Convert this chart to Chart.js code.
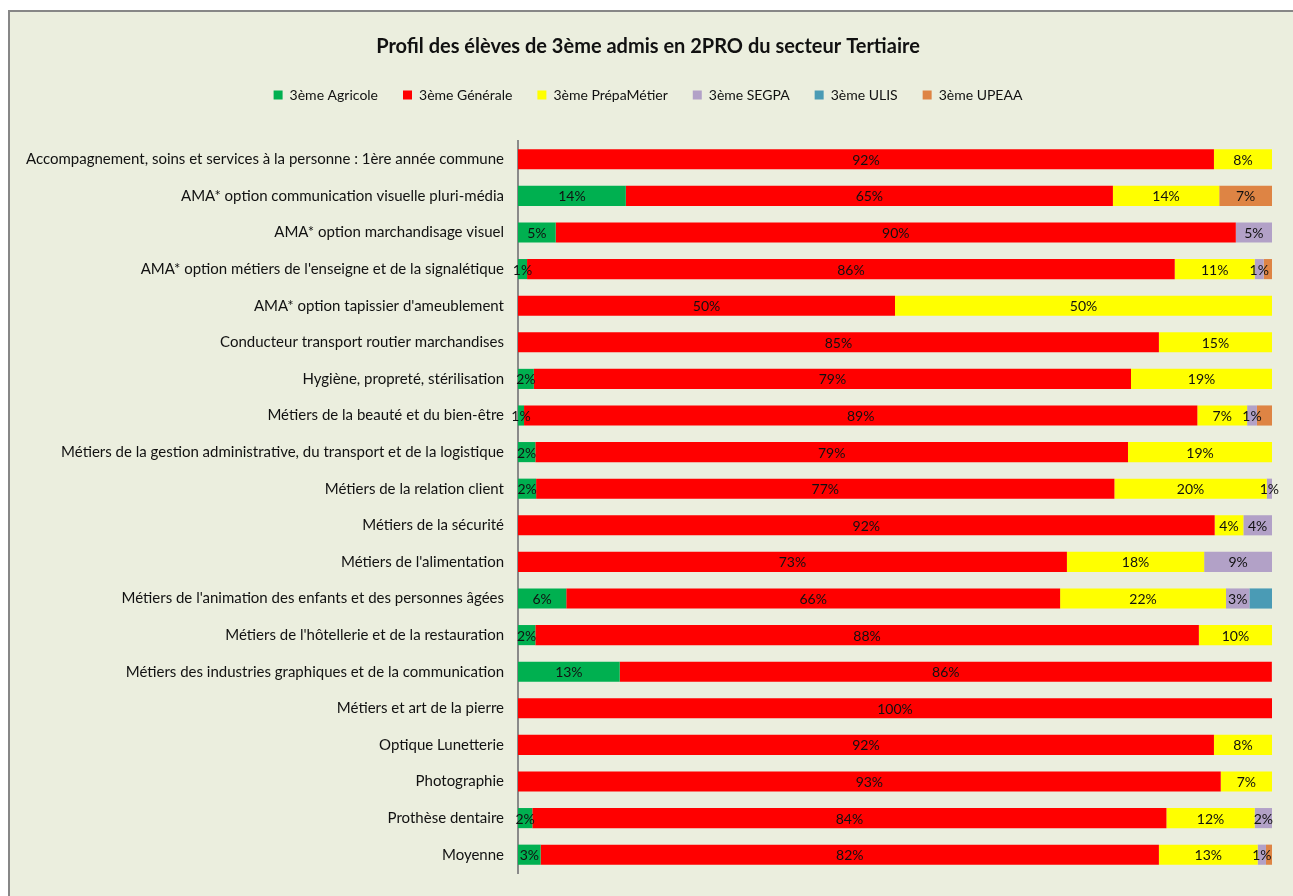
<!DOCTYPE html>
<html>
<head>
<meta charset="utf-8">
<script src="https://cdn.jsdelivr.net/npm/chart.js@4/dist/chart.umd.min.js"></script>
<style>
  html, body { margin: 0; padding: 0; background: #ffffff; }
  #frame {
    position: absolute; left: 8px; top: 10px; width: 1285px; height: 886px;
    border-top: 2px solid #878787; border-left: 2px solid #878787;
    background: #EBEEDE;
  }
  #box { position: absolute; left: 0; top: 0; width: 1283px; height: 884px; }
</style>
</head>
<body>
<div id="frame"><div id="box"><canvas id="profilChart"></canvas></div></div>
<script>
const categories = [
  "Accompagnement, soins et services à la personne : 1ère année commune",
  "AMA* option communication visuelle pluri-média",
  "AMA* option marchandisage visuel",
  "AMA* option métiers de l'enseigne et de la signalétique",
  "AMA* option tapissier d'ameublement",
  "Conducteur transport routier marchandises",
  "Hygiène, propreté, stérilisation",
  "Métiers de la beauté et du bien-être",
  "Métiers de la gestion administrative, du transport et de la logistique",
  "Métiers de la relation client",
  "Métiers de la sécurité",
  "Métiers de l'alimentation",
  "Métiers de l'animation des enfants et des personnes âgées",
  "Métiers de l'hôtellerie et de la restauration",
  "Métiers des industries graphiques et de la communication",
  "Métiers et art de la pierre",
  "Optique Lunetterie",
  "Photographie",
  "Prothèse dentaire",
  "Moyenne"
];

const agricole = [0, 14.3, 5.0, 1.2, 0, 0, 2.1, 0.8, 2.3, 2.4, 0, 0, 6.4, 2.3, 13.49, 0, 0, 0, 1.9, 3.0];
const generale = [92.3, 64.6, 90.2, 85.9, 50, 85, 79.2, 89.3, 78.6, 76.7, 92.4, 72.8, 65.5, 88.0, 86.49, 100, 92.3, 93.2, 84.1, 82.0];
const prepaMetier = [7.7, 14.1, 0, 10.6, 50, 15, 18.7, 6.6, 19.1, 20.2, 3.8, 18.2, 22.0, 9.7, 0, 0, 7.7, 6.8, 11.7, 13.1];
const segpa = [0, 0, 4.8, 1.2, 0, 0, 0, 1.3, 0, 0.7, 3.8, 9.0, 3.1, 0, 0, 0, 0, 0, 2.3, 1.1];
const ulis = [0, 0, 0, 0, 0, 0, 0, 0, 0, 0, 0, 0, 3.0, 0, 0, 0, 0, 0, 0, 0];
const upeaa = [0, 7.0, 0, 1.1, 0, 0, 0, 2.0, 0, 0, 0, 0, 0, 0, 0, 0, 0, 0, 0, 0.8];

const FONT = "Lato, 'Noto Sans', sans-serif";

// percentage labels centred in each segment, skipped when they would collide
const segmentLabels = {
  id: 'segmentLabels',
  afterDatasetsDraw(chart) {
    const ctx = chart.ctx;
    ctx.save();
    ctx.font = "14px " + FONT;
    ctx.fillStyle = '#111111';
    ctx.textAlign = 'center';
    ctx.textBaseline = 'middle';
    const lastRight = {};
    chart.data.datasets.forEach((ds, di) => {
      const meta = chart.getDatasetMeta(di);
      meta.data.forEach((bar, i) => {
        const v = Math.round(ds.data[i]);
        if (!v) return;
        const txt = v + '%';
        const w = ctx.measureText(txt).width;
        const cx = (bar.x + bar.base) / 2;
        if (lastRight[i] !== undefined && cx - w / 2 < lastRight[i] + 6) return;
        ctx.fillText(txt, cx, bar.y + 1);
        lastRight[i] = cx + w / 2;
      });
    });
    ctx.restore();
  }
};

function serie(label, data, color) {
  return { label: label, data: data, backgroundColor: color, borderWidth: 0,
           barPercentage: 0.55, categoryPercentage: 1 };
}

new Chart(document.getElementById('profilChart'), {
  type: 'bar',
  data: {
    labels: categories,
    datasets: [
      serie('3ème Agricole', agricole, '#00B050'),
      serie('3ème Générale', generale, '#FF0000'),
      serie('3ème PrépaMétier', prepaMetier, '#FFFF00'),
      serie('3ème SEGPA', segpa, '#B2A1C7'),
      serie('3ème ULIS', ulis, '#4A9BB5'),
      serie('3ème UPEAA', upeaa, '#DE8444')
    ]
  },
  options: {
    indexAxis: 'y',
    responsive: true,
    maintainAspectRatio: false,
    animation: false,
    layout: { padding: { left: 14, right: 21, bottom: 20 } },
    scales: {
      x: { stacked: true, min: 0, max: 100, display: false },
      y: {
        stacked: true,
        afterFit(scale) { scale.width = 494; },
        grid: { display: false, drawTicks: false },
        border: { display: true, color: '#8A8A8A', width: 2 },
        ticks: { color: '#111111', padding: 14, font: { family: FONT, size: 15 } }
      }
    },
    plugins: {
      title: {
        display: true,
        text: 'Profil des élèves de 3ème admis en 2PRO du secteur Tertiaire',
        color: '#111111',
        font: { family: FONT, size: 20, weight: 'bold' },
        padding: { top: 23, bottom: 4 }
      },
      subtitle: {
        display: true, text: '', weight: 500,
        font: { size: 10, lineHeight: 1 },
        padding: { top: 0, bottom: 19 }
      },
      legend: {
        position: 'top',
        labels: {
          boxWidth: 9, boxHeight: 9, padding: 25, color: '#111111',
          font: { family: FONT, size: 14 }
        }
      },
      tooltip: { enabled: false }
    }
  },
  plugins: [segmentLabels]
});
</script>
</body>
</html>
